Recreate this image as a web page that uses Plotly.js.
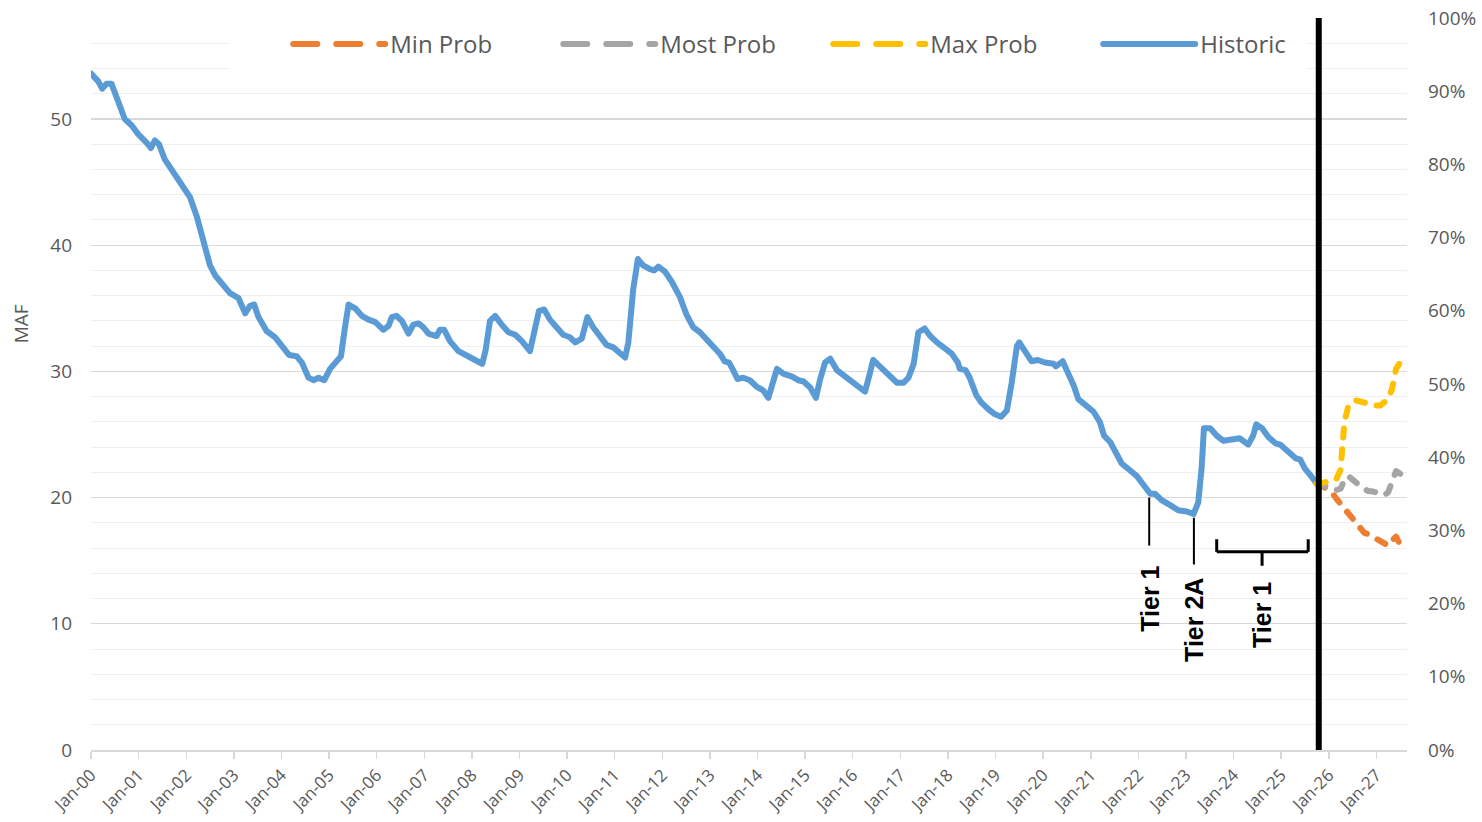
<!DOCTYPE html>
<html><head><meta charset="utf-8">
<script src="https://cdn.plot.ly/plotly-3.0.1.min.js"></script>
<style>
html,body{margin:0;padding:0;background:#fff;}
#chart{width:1482px;height:822px;}
.scatterlayer .js-line, .legend .js-line {stroke-linecap: round; stroke-linejoin: round;}
</style></head><body><div id="chart"></div>
<script>
// Historic storage (decimal year, MAF)
const histYear = [2000.00,2000.15,2000.24,2000.33,2000.43,2000.50,2000.61,2000.71,2000.85,2000.99,2001.17,2001.26,2001.34,2001.43,2001.55,2001.73,2001.90,2002.08,2002.22,2002.36,2002.50,2002.61,2002.75,2002.92,2003.10,2003.24,2003.34,2003.43,2003.52,2003.69,2003.87,2004.01,2004.16,2004.32,2004.43,2004.57,2004.67,2004.78,2004.90,2005.02,2005.13,2005.25,2005.32,2005.41,2005.55,2005.69,2005.83,2005.97,2006.14,2006.25,2006.32,2006.42,2006.53,2006.67,2006.77,2006.88,2006.98,2007.09,2007.26,2007.33,2007.42,2007.54,2007.72,2007.89,2008.07,2008.22,2008.29,2008.38,2008.49,2008.63,2008.77,2008.91,2009.05,2009.22,2009.31,2009.41,2009.52,2009.64,2009.78,2009.92,2010.06,2010.17,2010.31,2010.38,2010.43,2010.55,2010.69,2010.83,2010.97,2011.11,2011.22,2011.29,2011.39,2011.49,2011.60,2011.74,2011.83,2011.92,2012.06,2012.20,2012.37,2012.51,2012.65,2012.79,2012.97,2013.11,2013.21,2013.31,2013.40,2013.49,2013.58,2013.70,2013.84,2013.98,2014.12,2014.23,2014.31,2014.41,2014.55,2014.72,2014.86,2014.97,2015.11,2015.23,2015.32,2015.42,2015.53,2015.67,2015.84,2016.02,2016.16,2016.26,2016.35,2016.43,2016.57,2016.75,2016.93,2017.07,2017.17,2017.28,2017.38,2017.51,2017.63,2017.77,2017.94,2018.08,2018.21,2018.25,2018.37,2018.46,2018.60,2018.71,2018.85,2018.99,2019.12,2019.24,2019.34,2019.45,2019.50,2019.63,2019.76,2019.89,2020.04,2020.22,2020.27,2020.41,2020.53,2020.64,2020.74,2020.92,2021.06,2021.19,2021.28,2021.41,2021.51,2021.65,2021.81,2021.97,2022.11,2022.25,2022.35,2022.49,2022.67,2022.84,2023.02,2023.16,2023.26,2023.33,2023.38,2023.51,2023.65,2023.79,2023.96,2024.13,2024.31,2024.41,2024.48,2024.60,2024.73,2024.88,2024.98,2025.15,2025.31,2025.40,2025.50,2025.61,2025.75];
const histMAF = [53.6,53.0,52.4,52.8,52.8,52.1,50.8,50.0,49.5,48.8,48.1,47.7,48.3,48.0,46.8,45.8,44.8,43.8,42.3,40.5,38.4,37.6,36.9,36.2,35.8,34.6,35.2,35.3,34.3,33.2,32.7,32.1,31.3,31.2,30.7,29.5,29.3,29.5,29.3,30.2,30.7,31.2,33.1,35.3,35.0,34.4,34.1,33.9,33.3,33.6,34.3,34.4,34.0,33.0,33.7,33.8,33.5,33.0,32.8,33.3,33.3,32.4,31.6,31.2,30.9,30.6,31.7,34.0,34.4,33.7,33.1,32.9,32.4,31.6,33.1,34.8,34.9,34.1,33.5,32.9,32.7,32.3,32.6,33.5,34.3,33.5,32.7,32.1,31.9,31.5,31.1,32.3,36.5,38.9,38.4,38.1,38.0,38.3,37.9,37.1,35.9,34.5,33.5,33.1,32.4,31.8,31.4,30.8,30.7,30.1,29.4,29.5,29.3,28.8,28.5,27.9,29.1,30.2,29.8,29.6,29.3,29.2,28.7,27.9,29.4,30.7,31.0,30.1,29.6,29.1,28.6,28.4,29.7,30.9,30.4,29.7,29.1,29.1,29.5,30.6,33.1,33.4,32.8,32.3,31.8,31.4,30.7,30.2,30.1,29.5,28.1,27.5,27.0,26.6,26.4,26.9,29.1,32.0,32.3,31.5,30.8,30.9,30.7,30.6,30.4,30.8,29.9,28.9,27.8,27.2,26.8,26.0,24.9,24.4,23.6,22.7,22.2,21.7,21.0,20.3,20.3,19.8,19.4,19.0,18.9,18.7,19.6,22.3,25.5,25.5,24.9,24.5,24.6,24.7,24.2,24.9,25.8,25.5,24.8,24.3,24.2,23.6,23.1,23.0,22.3,21.8,21.1];

// Forecast months and projections (MAF)
const fcstMonth = ['2025-10-01','2025-11-01','2025-12-01','2026-01-01','2026-02-01','2026-03-01','2026-04-01','2026-05-01','2026-06-01','2026-07-01','2026-08-01','2026-09-01','2026-10-01','2026-11-01','2026-12-01','2027-01-01','2027-02-01','2027-03-01','2027-04-01','2027-05-01','2027-06-01','2027-07-01','2027-08-01'];
const minProb  = [21.1,21.0,20.8,20.5,20.3,19.9,19.5,19.0,18.7,18.3,17.9,17.5,17.2,17.1,16.9,16.7,16.5,16.4,16.2,16.6,16.9,16.3,15.7];
const mostProb = [21.1,21.0,20.9,20.8,20.7,20.6,20.7,21.4,21.7,21.4,21.2,20.9,20.7,20.5,20.5,20.4,20.3,20.2,20.4,21.3,22.1,21.9,21.7];
const maxProb  = [21.1,21.1,21.2,21.3,21.3,21.5,22.2,26.0,27.3,27.6,27.7,27.6,27.5,27.4,27.4,27.3,27.3,27.5,27.8,28.6,30.2,30.7,30.9];

// Tier annotations
const tierLabels = ['Tier 1','Tier 2A','Tier 1'];
const forecastStart = '2025-10-16';

function yearToDate(t){
  const y = Math.floor(t);
  const s = Date.UTC(y,0,1), e = Date.UTC(y+1,0,1);
  return new Date(s + (t - y)*(e - s)).toISOString().slice(0,10);
}
const histDate = histYear.map(yearToDate);

const dashed = '9px,12px';
const traces = [
  {x: histDate, y: histMAF, name: 'Historic', type: 'scatter', mode: 'lines',
   line: {color: '#5B9BD5', width: 6}, legendrank: 4, hoverinfo: 'x+y'},
  {x: fcstMonth, y: minProb, name: 'Min Prob', type: 'scatter', mode: 'lines',
   line: {color: '#ED7D31', width: 6, dash: dashed}, legendrank: 1},
  {x: fcstMonth, y: mostProb, name: 'Most Prob', type: 'scatter', mode: 'lines',
   line: {color: '#A5A5A5', width: 6, dash: dashed}, legendrank: 2},
  {x: fcstMonth, y: maxProb, name: 'Max Prob', type: 'scatter', mode: 'lines',
   line: {color: '#FFC000', width: 6, dash: dashed}, legendrank: 3},
  {x: [], y: [], yaxis: 'y2', showlegend: false, hoverinfo: 'skip', type: 'scatter', mode: 'lines'}
];

const blk = {color: '#000', width: 2};
const brk = {color: '#000', width: 3};
const shapes = [
  // white legend panel covering the gridlines behind the legend
  {type:'rect', xref:'paper', yref:'paper', x0:0.1056, x1:0.9248, y0:0.922, y1:1.0, fillcolor:'#ffffff', line:{width:0}, layer:'above'},
  {type:'line', xref:'x', yref:'paper', x0: forecastStart, x1: forecastStart, y0: 0, y1: 1, line:{color:'#000', width:6}, layer:'above'},
  {type:'line', xref:'x', yref:'y', x0:'2022-03-25', x1:'2022-03-25', y0:20.0, y1:16.2, line: blk},
  {type:'line', xref:'x', yref:'y', x0:'2023-03-03', x1:'2023-03-03', y0:18.4, y1:14.7, line: blk},
  {type:'line', xref:'x', yref:'y', x0:'2023-08-25', x1:'2023-08-25', y0:16.7, y1:15.7, line: brk},
  {type:'line', xref:'x', yref:'y', x0:'2023-08-25', x1:'2025-07-27', y0:15.7, y1:15.7, line: brk},
  {type:'line', xref:'x', yref:'y', x0:'2025-07-27', x1:'2025-07-27', y0:16.7, y1:15.7, line: brk},
  {type:'line', xref:'x', yref:'y', x0:'2024-08-07', x1:'2024-08-07', y0:15.7, y1:14.6, line: brk}
];

const tierFont = {family:'Liberation Sans, Arial, sans-serif', size:25, color:'#000'};
const annotations = [
  {xref:'x', yref:'y', x:'2022-03-25', y:12.0, text:'<b>'+tierLabels[0]+'</b>', textangle:-90, showarrow:false, font:tierFont, xanchor:'center', yanchor:'middle'},
  {xref:'x', yref:'y', x:'2023-03-03', y:10.3, text:'<b>'+tierLabels[1]+'</b>', textangle:-90, showarrow:false, font:tierFont, xanchor:'center', yanchor:'middle'},
  {xref:'x', yref:'y', x:'2024-08-07', y:10.7, text:'<b>'+tierLabels[2]+'</b>', textangle:-90, showarrow:false, font:tierFont, xanchor:'center', yanchor:'middle'},
  {xref:'paper', yref:'paper', x:-0.0532, y:0.583, text:'MAF', textangle:-90, showarrow:false, font:{size:19, color:'#595959'}, xanchor:'center', yanchor:'middle'}
];

const layout = {
  width: 1482, height: 822,
  margin: {l: 91, r: 75, t: 18, b: 72, pad: 0},
  paper_bgcolor: '#ffffff', plot_bgcolor: '#ffffff',
  font: {family: 'Open Sans, sans-serif', color: '#595959', size: 19},
  showlegend: true,
  legend: {orientation: 'h', x: 0.197, xanchor: 'left', y: 0.964, yanchor: 'middle',
           bgcolor: 'rgba(0,0,0,0)', font: {size: 24, color: '#595959'}, entrywidth: 225},
  xaxis: {type: 'date', range: ['2000-01-01', '2027-08-24'], tick0: '2000-01-01', dtick: 'M12',
          tickformat: '%b-%y', tickangle: -45, ticks: 'outside', ticklen: 7, tickcolor: '#d9d9d9',
          tickwidth: 1.5, showline: true, linecolor: '#d9d9d9', linewidth: 1.5, showgrid: false,
          zeroline: false, tickfont: {size: 17, color: '#595959'}},
  yaxis: {range: [0, 58], tick0: 0, dtick: 10, showgrid: true, gridcolor: '#d9d9d9', gridwidth: 1.3,
          minor: {tick0: 0, dtick: 2, showgrid: true, gridcolor: '#efefef', gridwidth: 1},
          zeroline: false, showline: false, ticks: '', ticklabelstandoff: 18,
          tickfont: {size: 19, color: '#595959'}, fixedrange: true},
  yaxis2: {overlaying: 'y', side: 'right', anchor: 'x', range: [0, 100], tick0: 0, dtick: 10, ticksuffix: '%',
           showgrid: false, zeroline: false, showline: false, ticks: '', ticklabelstandoff: 20,
           tickfont: {size: 19, color: '#595959'}},
  shapes: shapes,
  annotations: annotations
};

function longLegendSymbols(){
  const sb = document.querySelector('#chart .legend .scrollbox');
  if (sb) sb.removeAttribute('clip-path');
  document.querySelectorAll('#chart .legend .traces .js-line').forEach(p => {
    p.setAttribute('d', 'M-57,0h92');
    if (p.style.strokeDasharray && p.style.strokeDasharray !== 'none') {
      p.style.strokeDasharray = '24px, 19px';
    }
  });
}

Plotly.newPlot('chart', traces, layout, {displayModeBar: false, staticPlot: true}).then(longLegendSymbols);
</script>
</body></html>
